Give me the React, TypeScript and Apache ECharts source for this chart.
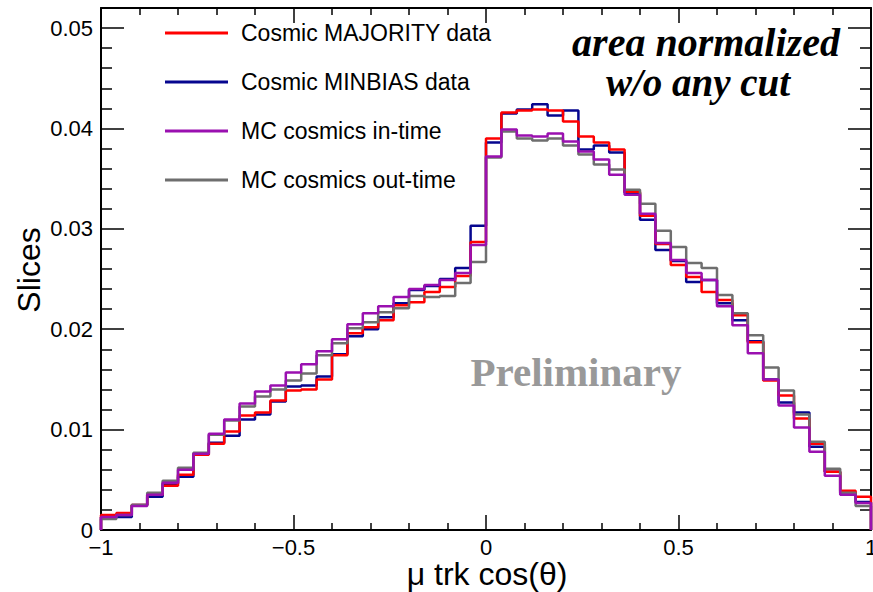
import React, { useEffect, useRef } from "react";
import * as echarts from "echarts";

// Histogram binning: 50 bins from -1 to 1
const BIN_LOW = -1;
const BIN_WIDTH = 0.04;

const SERIES_NAMES = [
  "Cosmic MAJORITY data",
  "Cosmic MINBIAS data",
  "MC cosmics in-time",
  "MC cosmics out-time",
];

// Bin contents
const majorityData = [
  0.0015, 0.0017, 0.0025, 0.0035, 0.0044, 0.0055, 0.0075, 0.0086, 0.0098, 0.0114,
  0.0117, 0.0129, 0.0139, 0.0140, 0.0150, 0.0174, 0.0196, 0.0202, 0.0209, 0.0224,
  0.0227, 0.0237, 0.0242, 0.0253, 0.0287, 0.0390, 0.0416, 0.0418, 0.0419, 0.0418,
  0.0407, 0.0392, 0.0386, 0.0379, 0.0337, 0.0313, 0.0285, 0.0264, 0.0252, 0.0237,
  0.0229, 0.0214, 0.0187, 0.0149, 0.0134, 0.0111, 0.0086, 0.0058, 0.0039, 0.0033,
];
const minbiasData = [
  0.0013, 0.0013, 0.0025, 0.0033, 0.0046, 0.0053, 0.0076, 0.0087, 0.0094, 0.0110,
  0.0115, 0.0128, 0.0143, 0.0144, 0.0153, 0.0175, 0.0193, 0.0200, 0.0212, 0.0226,
  0.0239, 0.0243, 0.0250, 0.0261, 0.0303, 0.0386, 0.0415, 0.0419, 0.0424, 0.0413,
  0.0418, 0.0379, 0.0383, 0.0376, 0.0336, 0.0309, 0.0279, 0.0268, 0.0247, 0.0249,
  0.0226, 0.0209, 0.0188, 0.0150, 0.0127, 0.0117, 0.0083, 0.0058, 0.0037, 0.0028,
];
const mcInTimeData = [
  0.0013, 0.0015, 0.0024, 0.0035, 0.0047, 0.0060, 0.0076, 0.0096, 0.0110, 0.0126,
  0.0138, 0.0144, 0.0157, 0.0165, 0.0178, 0.0190, 0.0205, 0.0216, 0.0223, 0.0232,
  0.0240, 0.0244, 0.0249, 0.0256, 0.0284, 0.0372, 0.0399, 0.0393, 0.0392, 0.0395,
  0.0387, 0.0377, 0.0369, 0.0354, 0.0334, 0.0315, 0.0286, 0.0269, 0.0256, 0.0249,
  0.0223, 0.0204, 0.0176, 0.0150, 0.0124, 0.0102, 0.0078, 0.0054, 0.0035, 0.0027,
];
const mcOutTimeData = [
  0.0011, 0.0015, 0.0025, 0.0037, 0.0049, 0.0062, 0.0077, 0.0095, 0.0109, 0.0123,
  0.0133, 0.0140, 0.0149, 0.0156, 0.0174, 0.0186, 0.0201, 0.0207, 0.0217, 0.0221,
  0.0233, 0.0232, 0.0233, 0.0246, 0.0267, 0.0371, 0.0397, 0.0390, 0.0388, 0.0390,
  0.0383, 0.0374, 0.0364, 0.0359, 0.0339, 0.0325, 0.0298, 0.0282, 0.0266, 0.0261,
  0.0234, 0.0216, 0.0194, 0.0162, 0.0139, 0.0115, 0.0088, 0.0061, 0.0037, 0.0024,
];

const SERIES_COLORS = ["#ff0000", "#06068f", "#9a10b0", "#6e6e6e"];

function histSteps(values: number[]): number[][] {
  const pts: number[][] = [[BIN_LOW, 0]];
  values.forEach((v, i) => pts.push([+(BIN_LOW + i * BIN_WIDTH).toFixed(4), v]));
  const hi = +(BIN_LOW + values.length * BIN_WIDTH).toFixed(4);
  pts.push([hi, values[values.length - 1]]);
  pts.push([hi, 0]);
  return pts;
}

const SANS = "'Liberation Sans', Arial, sans-serif";
const SERIF = "'Liberation Serif', 'Times New Roman', serif";

function fmtX(v: number): string {
  if (Math.abs(v) < 1e-9) return "0";
  const s = Math.abs(v - Math.round(v)) < 1e-9 ? String(Math.round(v)) : v.toFixed(1);
  return s.replace("-", "\u2212");
}
function fmtY(v: number): string {
  if (Math.abs(v) < 1e-9) return "0";
  return v.toFixed(2);
}

export default function App() {
  const ref = useRef<HTMLDivElement>(null);
  useEffect(() => {
    if (!ref.current) return;
    const chart = echarts.init(ref.current, undefined, { renderer: "svg" });
    const axisLine = { show: true, onZero: false, lineStyle: { color: "#000", width: 2 } };
    const tickStyle = { color: "#000", width: 1.5 };
    const xBase = {
      type: "value" as const,
      min: -1,
      max: 1,
      interval: 0.5,
      axisLine,
      splitLine: { show: false },
      axisTick: { show: true, inside: true, length: 15, lineStyle: tickStyle },
      minorTick: { show: true, splitNumber: 5, length: 7, lineStyle: tickStyle },
    };
    const yBase = {
      type: "value" as const,
      min: 0,
      max: 0.052,
      interval: 0.01,
      axisLine,
      splitLine: { show: false },
      axisTick: { show: true, inside: true, length: 23, lineStyle: tickStyle },
      minorTick: { show: true, splitNumber: 5, length: 11, lineStyle: tickStyle },
    };
    const all = [majorityData, minbiasData, mcInTimeData, mcOutTimeData];
    const drawOrder = [1, 0, 3, 2];
    chart.setOption({
      animation: false,
      backgroundColor: "#ffffff",
      grid: {
        left: 101,
        right: 2,
        top: 8,
        bottom: 62,
        containLabel: false,
        outerBoundsMode: "none",
      },
      xAxis: [
        {
          ...xBase,
          position: "bottom",
          axisLabel: {
            show: true,
            fontSize: 22,
            lineHeight: 22,
            fontFamily: SANS,
            color: "#000",
            margin: 6,
            formatter: fmtX,
          },
        },
        { ...xBase, position: "top", axisLabel: { show: false } },
      ],
      yAxis: [
        {
          ...yBase,
          position: "left",
          axisLabel: {
            show: true,
            fontSize: 22,
            lineHeight: 22,
            fontFamily: SANS,
            color: "#000",
            margin: 8,
            showMaxLabel: false,
            formatter: fmtY,
          },
        },
        { ...yBase, position: "right", axisLabel: { show: false } },
      ],
      legend: {
        show: true,
        orient: "vertical",
        left: 165,
        top: 21,
        padding: 0,
        icon: "rect",
        itemWidth: 63,
        itemHeight: 3,
        itemGap: 25,
        data: SERIES_NAMES,
        textStyle: {
          fontSize: 23,
          fontFamily: SANS,
          color: "#000",
          lineHeight: 24,
          padding: [0, 0, 0, 8],
        },
      },
      series: drawOrder.map((i) => ({
        name: SERIES_NAMES[i],
        type: "line",
        step: "end",
        xAxisIndex: 0,
        yAxisIndex: 0,
        symbol: "none",
        clip: true,
        color: SERIES_COLORS[i],
        lineStyle: { color: SERIES_COLORS[i], width: 2.5 },
        data: histSteps(all[i]),
      })),
      graphic: [
        {
          type: "text",
          x: 706,
          y: 61,
          style: {
            text: "area normalized",
            font: `italic bold 40px ${SERIF}`,
            lineHeight: 38,
            fill: "#000",
            align: "center",
            verticalAlign: "bottom",
          },
        },
        {
          type: "text",
          x: 698,
          y: 101,
          style: {
            text: "w/o any cut",
            font: `italic bold 39px ${SERIF}`,
            lineHeight: 38,
            fill: "#000",
            align: "center",
            verticalAlign: "bottom",
          },
        },
        {
          type: "text",
          x: 576,
          y: 392,
          style: {
            text: "Preliminary",
            font: `bold 41px ${SERIF}`,
            fill: "#999999",
            align: "center",
            verticalAlign: "bottom",
          },
        },
        {
          type: "text",
          x: 29,
          y: 270,
          rotation: Math.PI / 2,
          style: {
            text: "Slices",
            font: `32px ${SANS}`,
            fill: "#000",
            align: "center",
            verticalAlign: "middle",
          },
        },
        {
          type: "text",
          x: 487,
          y: 574,
          style: {
            text: "\u03bc trk cos(\u03b8)",
            font: `32px ${SANS}`,
            lineHeight: 30,
            fill: "#000",
            align: "center",
            verticalAlign: "middle",
          },
        },
      ],
    });
    return () => chart.dispose();
  }, []);
  return (
    <div
      ref={ref}
      style={{ position: "absolute", left: 0, top: 0, width: 873, height: 592 }}
    />
  );
}
